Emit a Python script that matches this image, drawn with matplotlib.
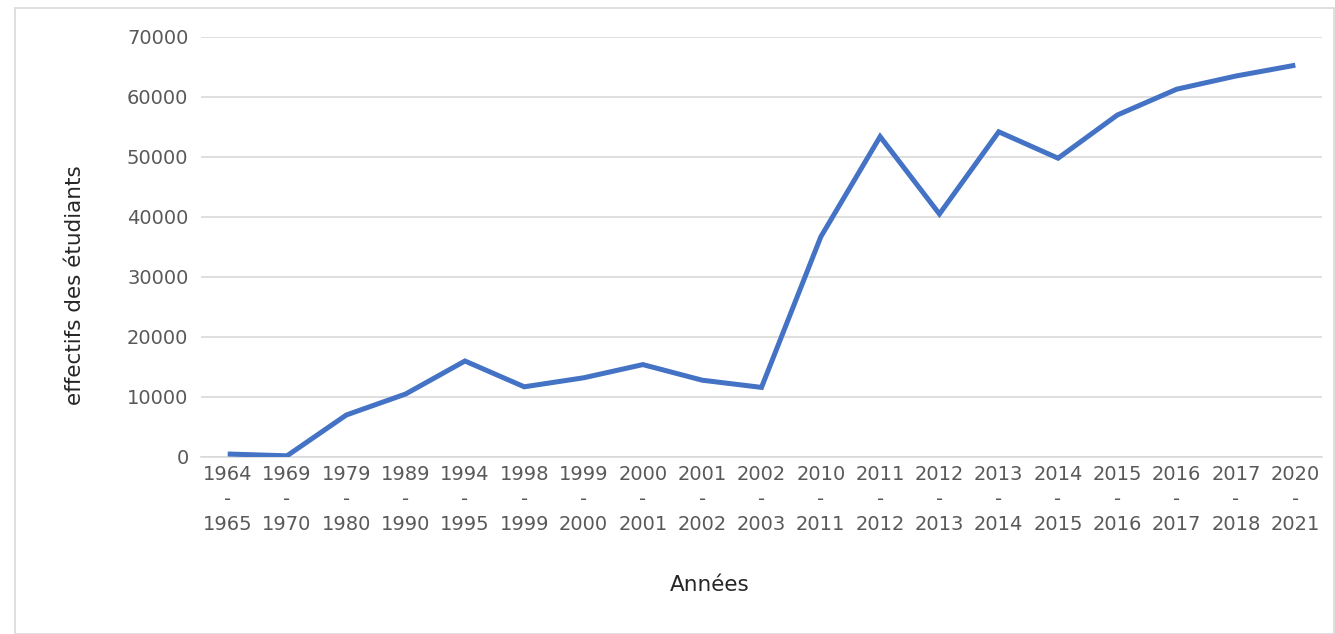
import matplotlib
matplotlib.use("Agg")
import matplotlib.pyplot as plt
from matplotlib.patches import Rectangle

periods = ["1964\n-\n1965", "1969\n-\n1970", "1979\n-\n1980", "1989\n-\n1990",
           "1994\n-\n1995", "1998\n-\n1999", "1999\n-\n2000", "2000\n-\n2001",
           "2001\n-\n2002", "2002\n-\n2003", "2010\n-\n2011", "2011\n-\n2012",
           "2012\n-\n2013", "2013\n-\n2014", "2014\n-\n2015", "2015\n-\n2016",
           "2016\n-\n2017", "2017\n-\n2018", "2020\n-\n2021"]
effectifs = [500, 200, 7000, 10500, 16000, 11700, 13200, 15400, 12800, 11600,
             36700, 53400, 40500, 54200, 49800, 57000, 61300, 63500, 65300]
yticks = [0, 10000, 20000, 30000, 40000, 50000, 60000, 70000]

W, H = 1335, 634
fig = plt.figure(figsize=(W / 100, H / 100), dpi=100)
fig.patch.set_facecolor("white")

# outer chart border
fig.patches.append(Rectangle((15 / W, 0), (W - 16) / W, (H - 8) / H,
                             transform=fig.transFigure, fill=False,
                             edgecolor="#d9d9d9", linewidth=1.2))

ax = fig.add_axes([201 / W, 1 - 457 / H, (1322 - 201) / W, (457 - 37) / H])
x = list(range(len(periods)))
ax.plot(x, effectifs, color="#4472C4", linewidth=3.6, solid_joinstyle="miter",
        solid_capstyle="butt", zorder=3)

ax.set_xlim(-0.45, len(periods) - 0.55)
ax.set_ylim(0, 70000)
ax.set_yticks(yticks)
ax.set_yticklabels([str(v) for v in yticks], fontsize=14, color="#595959")
ax.set_xticks(x)
ax.set_xticklabels(periods, fontsize=14, color="#595959", linespacing=1.4)
ax.tick_params(axis="both", length=0)
ax.tick_params(axis="y", pad=9)
ax.tick_params(axis="x", pad=6)
ax.grid(axis="y", color="#d9d9d9", linewidth=1.2)
ax.set_axisbelow(True)
for s in ["top", "right", "left"]:
    ax.spines[s].set_visible(False)
ax.spines["bottom"].set_color("#d9d9d9")
ax.spines["bottom"].set_linewidth(1.2)

fig.text(710 / W, 1 - 585 / H, "Années", ha="center", va="center",
         fontsize=15.5, color="#262626")
fig.text(75 / W, 1 - 285 / H, "effectifs des étudiants", ha="center", va="center",
         rotation=90, fontsize=15.5, color="#262626")

fig.savefig("out.png", dpi=100)
